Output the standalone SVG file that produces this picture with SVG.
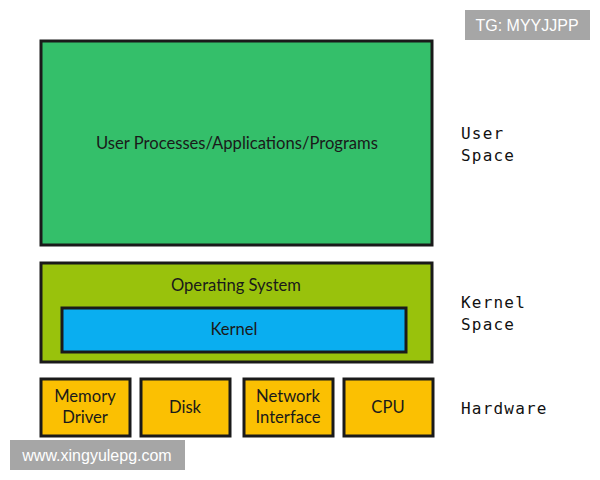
<svg xmlns="http://www.w3.org/2000/svg" width="600" height="480" viewBox="0 0 600 480">
<style>
.box{stroke:#1a1a1a;stroke-width:3}
.t{font-family:Lato,"Open Sans","Liberation Sans",sans-serif;font-size:16.6px;fill:#1a1a1a;text-anchor:middle;dominant-baseline:central}
.m{font-family:"DejaVu Sans Mono","Liberation Mono",monospace;font-size:16px;fill:#111;letter-spacing:1.2px}
.wm{font-family:"Liberation Sans",Arial,sans-serif;font-size:16px;fill:#fff}
</style>
<rect width="600" height="480" fill="#fff"/>
<g id="user">
<rect class="box" x="41" y="41" width="391" height="204" fill="#34bf6a"/>
<text class="t" x="237" y="143">User Processes/Applications/Programs</text>
</g>
<g id="os">
<rect class="box" x="41" y="263" width="391" height="99" fill="#99c20c"/>
<text class="t" x="236" y="285">Operating System</text>
</g>
<g id="kernel">
<rect class="box" x="62" y="308" width="344" height="44" fill="#0aaef0"/>
<text class="t" x="234" y="329">Kernel</text>
</g>
<g id="memory">
<rect class="box" x="41" y="379" width="89" height="57" fill="#fbc002"/>
<text class="t" x="85" y="396">Memory</text>
<text class="t" x="85" y="417">Driver</text>
</g>
<g id="disk">
<rect class="box" x="141" y="379" width="89" height="57" fill="#fbc002"/>
<text class="t" x="185" y="407">Disk</text>
</g>
<g id="network">
<rect class="box" x="244" y="379" width="89" height="57" fill="#fbc002"/>
<text class="t" x="288" y="396">Network</text>
<text class="t" x="288" y="417">Interface</text>
</g>
<g id="cpu">
<rect class="box" x="344" y="379" width="89" height="57" fill="#fbc002"/>
<text class="t" x="388" y="407">CPU</text>
</g>
<g id="labels">
<text class="m" x="461" y="139">User</text>
<text class="m" x="461" y="161">Space</text>
<text class="m" x="461" y="308">Kernel</text>
<text class="m" x="461" y="330">Space</text>
<text class="m" x="461" y="414">Hardware</text>
</g>
<g id="connectors"></g>
<g id="watermarks">
<rect x="465" y="10" width="125" height="30" fill="#a6a6a6"/>
<text class="wm" x="527" y="31" text-anchor="middle">TG: MYYJJPP</text>
<rect x="10" y="440" width="175" height="30" fill="#a6a6a6"/>
<text class="wm" x="97" y="461" text-anchor="middle" font-size="16.5">www.xingyulepg.com</text>
</g>
</svg>
